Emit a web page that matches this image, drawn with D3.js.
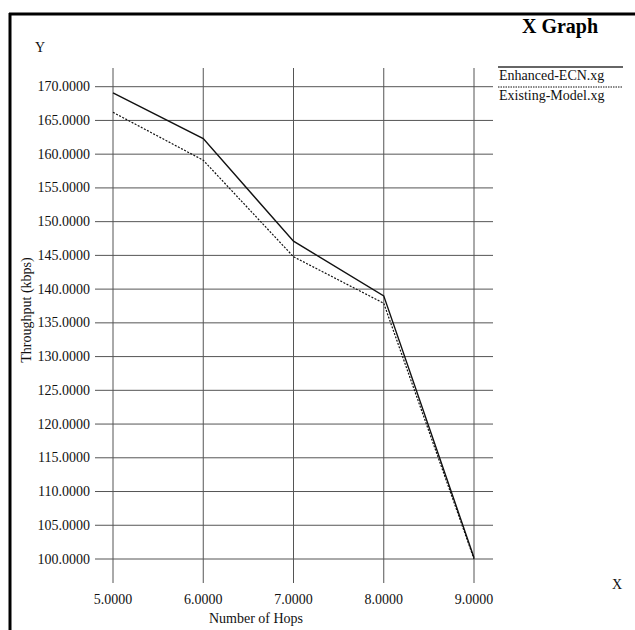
<!DOCTYPE html>
<html>
<head>
<meta charset="utf-8">
<script src="https://cdn.jsdelivr.net/npm/d3@7"></script>
<style>
  body { margin: 0; background: #fff; }
  text { font-family: "Liberation Serif", "Times New Roman", serif; fill: #111; }
</style>
</head>
<body>
<svg id="vis_svg" width="635" height="630"></svg>
<script>
// data
const hops = [5, 6, 7, 8, 9];
const enhancedEcn = [169.1, 162.3, 147.1, 139.0, 100.2];
const existingModel = [166.2, 159.1, 144.8, 137.9, 100.0];
const xTicks = [5, 6, 7, 8, 9];
const yTicks = [100, 105, 110, 115, 120, 125, 130, 135, 140, 145, 150, 155, 160, 165, 170];
const seriesNames = ['Enhanced-ECN.xg', 'Existing-Model.xg'];

const svg = d3.select('#vis_svg');

// frame: thick top and left border
svg.append('line').attr('x1', 9).attr('x2', 635).attr('y1', 14).attr('y2', 14)
  .attr('stroke', '#000').attr('stroke-width', 3);
svg.append('line').attr('x1', 10).attr('x2', 10).attr('y1', 13).attr('y2', 630)
  .attr('stroke', '#000').attr('stroke-width', 3);

const xScale = d3.scaleLinear().domain([5, 9]).range([113, 474]);
const yScale = d3.scaleLinear().domain([100, 170]).range([559, 86.7]);

// grid lines
const grid = svg.append('g');
grid.selectAll('.hgrid')
  .data(yTicks)
  .enter()
  .append('line')
  .attr('x1', 95)
  .attr('x2', 493)
  .attr('y1', (d) => yScale(d))
  .attr('y2', (d) => yScale(d))
  .attr('stroke', '#555')
  .attr('stroke-width', 1);
grid.selectAll('.vgrid')
  .data(xTicks)
  .enter()
  .append('line')
  .attr('x1', (d) => xScale(d))
  .attr('x2', (d) => xScale(d))
  .attr('y1', 68)
  .attr('y2', 583)
  .attr('stroke', '#555')
  .attr('stroke-width', 1);

// tick labels
svg.selectAll('.ylab')
  .data(yTicks)
  .enter()
  .append('text')
  .attr('x', 90)
  .attr('y', (d) => yScale(d) + 4.5)
  .attr('text-anchor', 'end')
  .style('font-size', '14px')
  .text((d) => d3.format('.4f')(d));
svg.selectAll('.xlab')
  .data(xTicks)
  .enter()
  .append('text')
  .attr('x', (d) => xScale(d))
  .attr('y', 604)
  .attr('text-anchor', 'middle')
  .style('font-size', '14px')
  .text((d) => d3.format('.4f')(d));

// axis titles
svg.append('text').attr('x', 40).attr('y', 52).attr('text-anchor', 'middle')
  .style('font-size', '14px').text('Y');
svg.append('text').attr('x', 617).attr('y', 589).attr('text-anchor', 'middle')
  .style('font-size', '14px').text('X');
svg.append('text').attr('x', 256).attr('y', 623).attr('text-anchor', 'middle')
  .style('font-size', '14px').text('Number of Hops');
svg.append('text')
  .attr('transform', 'translate(31,310)rotate(-90)')
  .attr('text-anchor', 'middle')
  .style('font-size', '14px')
  .text('Throughput (kbps)');
svg.append('text').attr('x', 560).attr('y', 33).attr('text-anchor', 'middle')
  .style('font-size', '20px').style('font-weight', 'bold').style('fill', '#000')
  .text('X Graph');

// series
const line = d3.line().x((d) => xScale(d[0])).y((d) => yScale(d[1]));
svg.append('path')
  .datum(hops.map((h, i) => [h, enhancedEcn[i]]))
  .attr('d', line)
  .attr('fill', 'none')
  .attr('stroke', '#111')
  .attr('stroke-width', 1.4);
svg.append('path')
  .datum(hops.map((h, i) => [h, existingModel[i]]))
  .attr('d', line)
  .attr('fill', 'none')
  .attr('stroke', '#111')
  .attr('stroke-width', 1.2)
  .attr('stroke-dasharray', '2,1.5');

// legend
svg.append('line').attr('x1', 498).attr('x2', 623).attr('y1', 67).attr('y2', 67)
  .attr('stroke', '#666').attr('stroke-width', 2);
svg.append('line').attr('x1', 498).attr('x2', 623).attr('y1', 87).attr('y2', 87)
  .attr('stroke', '#111').attr('stroke-width', 1).attr('stroke-dasharray', '1.5,1');
svg.selectAll('.leg')
  .data(seriesNames)
  .enter()
  .append('text')
  .attr('x', 499)
  .attr('y', (d, i) => 80 + i * 20)
  .style('font-size', '14px')
  .text((d) => d);
</script>
</body>
</html>
